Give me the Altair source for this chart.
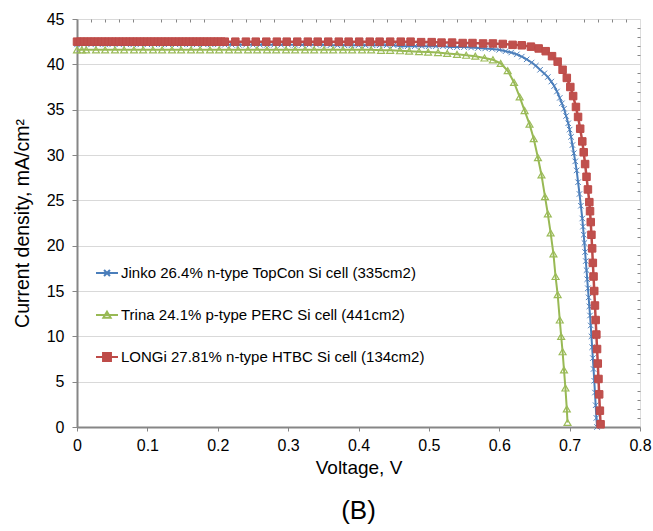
import altair as alt
import pandas as pd

FONT = "Liberation Sans"
AXIS_GRAY = "#868686"

series = [
    "Jinko 26.4% n-type TopCon Si cell (335cm2)",
    "Trina 24.1% p-type PERC Si cell (441cm2)",
    "LONGi 27.81% n-type HTBC Si cell (134cm2)",
]

# ---------------- data ----------------
jinko_v = [
    0.000, 0.010, 0.020, 0.030, 0.040, 0.050, 0.060, 0.070, 0.080, 0.090,
    0.100, 0.110, 0.120, 0.130, 0.140, 0.150, 0.160, 0.170, 0.180, 0.190,
    0.200, 0.210, 0.220, 0.230, 0.240, 0.250, 0.260, 0.270, 0.280, 0.290,
    0.300, 0.310, 0.320, 0.330, 0.340, 0.350, 0.360, 0.370, 0.380, 0.390,
    0.400, 0.410, 0.420, 0.430, 0.440, 0.450, 0.460, 0.470, 0.480, 0.490,
    0.500, 0.510, 0.520, 0.530, 0.540, 0.550,
    0.560, 0.570, 0.580, 0.590, 0.600,
    0.609, 0.617, 0.625, 0.632, 0.639, 0.646,
    0.652, 0.658, 0.664, 0.669, 0.674, 0.678, 0.682, 0.686, 0.689, 0.692, 0.695, 0.698,
    0.700, 0.702, 0.704, 0.706, 0.708, 0.710, 0.712, 0.714, 0.716, 0.718,
    0.719, 0.720, 0.721, 0.722, 0.723, 0.724, 0.725, 0.726, 0.727, 0.728,
    0.729, 0.730, 0.731, 0.732, 0.733, 0.734, 0.735, 0.736, 0.737, 0.738, 0.739,
]
jinko_j = [
    42.2, 42.2, 42.2, 42.2, 42.2, 42.2, 42.2, 42.2, 42.2, 42.2,
    42.2, 42.2, 42.2, 42.2, 42.2, 42.2, 42.2, 42.2, 42.2, 42.2,
    42.2, 42.15, 42.15, 42.15, 42.15, 42.15, 42.15, 42.15, 42.15, 42.15,
    42.15, 42.15, 42.15, 42.15, 42.15, 42.15, 42.1, 42.1, 42.1, 42.1,
    42.1, 42.1, 42.1, 42.1, 42.1, 42.1, 42.0, 42.0, 42.0, 42.0,
    42.0, 42.0, 42.0, 41.9, 41.9, 41.9,
    41.85, 41.8, 41.75, 41.7, 41.6,
    41.45, 41.3, 41.1, 40.85, 40.55, 40.2,
    39.85, 39.4, 39.0, 38.6, 38.1, 37.6, 37.0, 36.3, 35.7, 35.1, 34.3, 33.5,
    32.8, 32.0, 31.1, 30.2, 29.3, 28.3, 27.0, 25.7, 24.4, 23.0,
    22.1, 21.2, 20.3, 19.3, 18.3, 17.3, 16.3, 15.3, 14.3, 13.3,
    12.3, 11.2, 10.0, 8.8, 7.6, 6.4, 5.1, 3.8, 2.4, 1.0, 0.0,
]

trina_v = [
    0.000, 0.007, 0.013, 0.027, 0.040, 0.054, 0.067, 0.081, 0.094, 0.108,
    0.121, 0.135, 0.148, 0.162, 0.175, 0.189, 0.202, 0.216, 0.229, 0.243,
    0.256, 0.270, 0.283, 0.297, 0.310, 0.324, 0.337, 0.351, 0.364, 0.378,
    0.391, 0.405,
    0.418, 0.432, 0.445, 0.459, 0.472, 0.486, 0.499, 0.513, 0.526, 0.540,
    0.553, 0.566, 0.579, 0.591, 0.602, 0.612, 0.621, 0.629, 0.636, 0.643,
    0.649, 0.655, 0.660, 0.665, 0.669, 0.673, 0.677, 0.680, 0.683, 0.686,
    0.688, 0.690, 0.692, 0.694, 0.696, 0.697,
]
trina_j = [
    41.6, 41.6, 41.6, 41.6, 41.6, 41.6, 41.6, 41.6, 41.6, 41.6,
    41.6, 41.6, 41.6, 41.6, 41.6, 41.6, 41.6, 41.6, 41.6, 41.6,
    41.6, 41.6, 41.6, 41.6, 41.6, 41.6, 41.6, 41.6, 41.6, 41.6,
    41.6, 41.6,
    41.6, 41.55, 41.55, 41.5, 41.45, 41.4, 41.35, 41.3, 41.2, 41.1,
    41.0, 40.9, 40.7, 40.5, 40.1, 39.3, 38.0, 36.4, 34.9, 33.4,
    31.8, 29.7, 27.8, 25.4, 23.5, 21.4, 19.1, 16.6, 14.6, 11.8,
    10.0, 8.3, 6.3, 4.3, 2.0, 0.5,
]

longi_v = [
    0.000, 0.005, 0.010, 0.015, 0.020, 0.025, 0.030, 0.035, 0.040, 0.045,
    0.050, 0.055, 0.060, 0.065, 0.070, 0.075, 0.080, 0.085, 0.090, 0.095,
    0.100, 0.105, 0.110, 0.115, 0.120, 0.125, 0.130, 0.135, 0.140, 0.145,
    0.150, 0.155, 0.160, 0.165, 0.170, 0.175, 0.180, 0.185, 0.190, 0.195,
    0.200, 0.205, 0.210,
    0.225, 0.240, 0.254, 0.269, 0.284, 0.298, 0.313, 0.328, 0.342, 0.357,
    0.372, 0.386, 0.401, 0.416, 0.430, 0.445, 0.460, 0.474,
    0.489, 0.504, 0.518, 0.533, 0.548, 0.562, 0.577, 0.591, 0.605, 0.619,
    0.632, 0.645, 0.656, 0.666, 0.675, 0.683, 0.690, 0.696,
    0.701, 0.705, 0.709, 0.712, 0.715, 0.718, 0.720, 0.722, 0.724, 0.726, 0.728,
    0.729, 0.730, 0.731, 0.732, 0.733, 0.734, 0.735, 0.736, 0.737, 0.738,
    0.739, 0.740, 0.741, 0.742, 0.743, 0.744,
]
longi_j = [
    42.5, 42.5, 42.5, 42.5, 42.5, 42.5, 42.5, 42.5, 42.5, 42.5,
    42.5, 42.5, 42.5, 42.5, 42.5, 42.5, 42.5, 42.5, 42.5, 42.5,
    42.5, 42.5, 42.5, 42.5, 42.5, 42.5, 42.5, 42.5, 42.5, 42.5,
    42.5, 42.5, 42.5, 42.5, 42.5, 42.5, 42.5, 42.5, 42.5, 42.5,
    42.5, 42.5, 42.5,
    42.5, 42.5, 42.5, 42.5, 42.5, 42.5, 42.5, 42.5, 42.5, 42.5,
    42.5, 42.5, 42.5, 42.5, 42.5, 42.5, 42.5, 42.5,
    42.45, 42.45, 42.4, 42.4, 42.35, 42.35, 42.3, 42.3, 42.25, 42.15,
    42.1, 41.95, 41.75, 41.45, 40.9, 40.3, 39.4, 38.5,
    37.5, 36.5, 35.3, 34.2, 32.9, 31.5, 30.3, 29.0, 27.6, 26.2, 24.8,
    23.8, 22.6, 21.2, 19.7, 18.1, 16.6, 15.0, 13.4, 11.8, 10.2,
    8.6, 7.0, 5.3, 3.6, 1.8, 0.3,
]

x_ticks = [0, 0.1, 0.2, 0.3, 0.4, 0.5, 0.6, 0.7, 0.8]
x_minor = [0.02, 0.04, 0.06, 0.08, 0.12, 0.14, 0.16, 0.18, 0.22, 0.24, 0.26, 0.28,
           0.32, 0.34, 0.36, 0.38, 0.42, 0.44, 0.46, 0.48, 0.52, 0.54, 0.56, 0.58,
           0.62, 0.64, 0.66, 0.68, 0.72, 0.74, 0.76, 0.78]
y_ticks = [0, 5, 10, 15, 20, 25, 30, 35, 40, 45]
y_minor = [1, 2, 3, 4, 6, 7, 8, 9, 11, 12, 13, 14, 16, 17, 18, 19, 21, 22, 23, 24,
           26, 27, 28, 29, 31, 32, 33, 34, 36, 37, 38, 39, 41, 42, 43, 44]

line_colors = ["#4A7EBB", "#98B954", "#BE4B48"]
marker_colors = ["#4F81BD", "#9BBB59", "#C0504D"]

# legend symbols: a short line with the series marker in its middle
legend_shapes = [
    "M-1,0H1M-0.27,-0.27L0.27,0.27M-0.27,0.27L0.27,-0.27",
    "M-1,0H1M0,-0.3L0.33,0.25L-0.33,0.25Z",
    "M-1,0H1M-0.36,-0.36H0.36V0.36H-0.36ZM-0.24,-0.24H0.24V0.24H-0.24Z"
    "M-0.12,-0.12H0.12V0.12H-0.12ZM-0.02,-0.02H0.02V0.02H-0.02Z",
]
X_MARK = "M-1,-1L1,1M-1,1L1,-1"


def series_df(name, v, j):
    assert len(v) == len(j), name
    return pd.DataFrame({"V": v, "J": j, "series": name})


df_jinko = series_df(series[0], jinko_v, jinko_j)
df_trina = series_df(series[1], trina_v, trina_j)
df_longi = series_df(series[2], longi_v, longi_j)
df_all = pd.concat([df_jinko, df_trina, df_longi], ignore_index=True)

x_scale = alt.Scale(domain=[0, 0.8], nice=False, zero=False)
y_scale = alt.Scale(domain=[0, 45], nice=False)

x_main_axis = alt.Axis(
    values=x_ticks, format="~g", title="Voltage, V", grid=False,
    domainColor=AXIS_GRAY, domainWidth=2, tickColor=AXIS_GRAY, tickSize=4, tickWidth=1,
    labelPadding=6, labelFontSize=16, labelColor="black", labelFont=FONT,
    labelFlush=False, labelOverlap=False,
    titleFontSize=19, titleFontWeight="normal", titleColor="black", titleFont=FONT,
    titleX=281.5, titleY=40, titleAlign="center", titleBaseline="middle",
)
y_main_axis = alt.Axis(
    values=y_ticks, title="Current density, mA/cm²", grid=True,
    gridColor="#D9D9D9", gridWidth=1,
    domainColor=AXIS_GRAY, domainWidth=2, tickColor=AXIS_GRAY, tickSize=5, tickWidth=1,
    labelPadding=8, labelFontSize=16, labelColor="black", labelFont=FONT,
    labelFlush=False, labelOverlap=False,
    titleFontSize=19.5, titleFontWeight="normal", titleColor="black", titleFont=FONT,
    titleAngle=270, titleX=-55, titleY=204, titleAlign="center", titleBaseline="middle",
)
x_minor_axis = alt.Axis(values=x_minor, labels=False, domain=False, grid=False, title=None,
                        ticks=True, tickSize=3, tickColor=AXIS_GRAY, tickWidth=1, offset=-3)
y_minor_axis = alt.Axis(values=y_minor, labels=False, domain=False, grid=False, title=None,
                        ticks=True, tickSize=3, tickColor=AXIS_GRAY, tickWidth=1, offset=-3)


def enc_xy(xaxis=None, yaxis=None):
    return dict(
        x=alt.X("V:Q", scale=x_scale, axis=xaxis),
        y=alt.Y("J:Q", scale=y_scale, axis=yaxis),
    )


# axes carriers (no rows drawn)
axes_layer = alt.Chart(df_all).mark_point(opacity=0).encode(
    **enc_xy(x_main_axis, y_main_axis)).transform_filter("false")
minor_x_layer = alt.Chart(df_all).mark_point(opacity=0).encode(
    **enc_xy(x_minor_axis, None)).transform_filter("false")
minor_y_layer = alt.Chart(df_all).mark_point(opacity=0).encode(
    **enc_xy(None, y_minor_axis)).transform_filter("false")

jinko_line = alt.Chart(df_jinko).mark_line(color=line_colors[0], strokeWidth=2).encode(**enc_xy())
jinko_pts = alt.Chart(df_jinko).mark_point(
    shape=X_MARK, size=30, filled=False, stroke=marker_colors[0], strokeWidth=1, opacity=1
).encode(**enc_xy())

trina_line = alt.Chart(df_trina).mark_line(color=line_colors[1], strokeWidth=2).encode(**enc_xy())
trina_pts = alt.Chart(df_trina).mark_point(
    shape="triangle-up", size=48, filled=False, stroke=marker_colors[1], strokeWidth=1.2, opacity=1
).encode(**enc_xy())

longi_line = alt.Chart(df_longi).mark_line(color=line_colors[2], strokeWidth=2.5).encode(**enc_xy())
longi_pts = alt.Chart(df_longi).mark_point(
    shape="square", size=56, filled=True, fill=marker_colors[2], stroke=line_colors[2],
    strokeWidth=1, opacity=1
).encode(**enc_xy())

leg = alt.Legend(
    title=None, orient="none", legendX=18, legendY=242, direction="vertical",
    symbolSize=484, symbolStrokeWidth=2, labelFontSize=15, labelFont=FONT,
    labelColor="black", labelOffset=2, rowPadding=22, padding=0, labelLimit=500,
)
legend_layer = alt.Chart(df_all).mark_point(filled=False, opacity=1, strokeWidth=2).encode(
    color=alt.Color("series:N", scale=alt.Scale(domain=series, range=line_colors), legend=leg,
                    sort=series),
    shape=alt.Shape("series:N", scale=alt.Scale(domain=series, range=legend_shapes), legend=leg,
                    sort=series),
).transform_filter("false")

chart = alt.layer(
    axes_layer, minor_x_layer, minor_y_layer,
    jinko_line, jinko_pts, trina_line, trina_pts, longi_line, longi_pts,
    legend_layer,
).resolve_axis(
    x="independent", y="independent"
).properties(
    width=563, height=408,
    padding={"left": 77, "top": 19, "right": 13, "bottom": 104},
    autosize=alt.AutoSizeParams(type="none"),
    title=alt.Title("(B)", orient="bottom", fontSize=26, fontWeight="normal", font=FONT,
                    color="black", anchor="middle", offset=21),
).configure_view(
    stroke="#404040", strokeWidth=1.5
).configure(
    font=FONT, background="white"
)

chart.save("out.html", embed_options={"renderer": "svg", "actions": False})
